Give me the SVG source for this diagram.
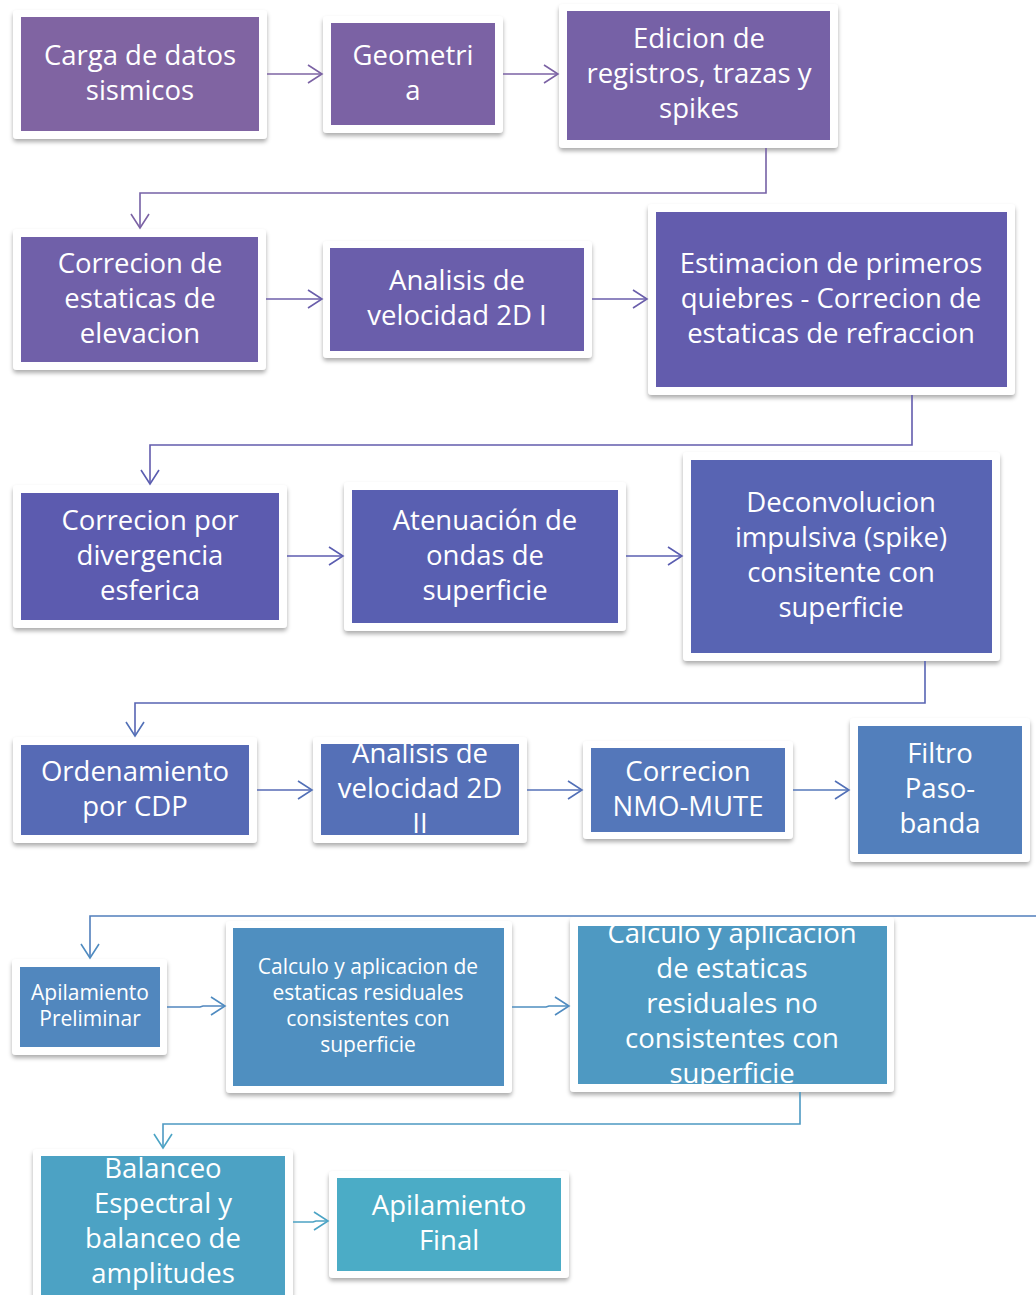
<svg xmlns="http://www.w3.org/2000/svg" width="1036" height="1295" viewBox="0 0 1036 1295">
<style>
.o{fill:#fff;filter:url(#sh)}
.t{font-family:"Open Sans","Noto Sans",sans-serif;font-size:27.5px;fill:#fff;text-anchor:middle}
.s{font-size:21px}
.c{fill:none;stroke-width:1.6}
</style>
<defs>
<filter id="sh" x="-10%" y="-10%" width="120%" height="130%">
<feDropShadow dx="0" dy="3" stdDeviation="2.2" flood-color="#000" flood-opacity="0.32"/>
</filter>
<marker id="a1" markerUnits="userSpaceOnUse" markerWidth="18" markerHeight="22" refX="15" refY="10" orient="auto"><path d="M1,1 L15,10 L1,19" fill="none" stroke="#7B62A4" stroke-width="1.6"/></marker>
<marker id="a2" markerUnits="userSpaceOnUse" markerWidth="18" markerHeight="22" refX="15" refY="10" orient="auto"><path d="M1,1 L15,10 L1,19" fill="none" stroke="#6A5EAB" stroke-width="1.6"/></marker>
<marker id="a3" markerUnits="userSpaceOnUse" markerWidth="18" markerHeight="22" refX="15" refY="10" orient="auto"><path d="M1,1 L15,10 L1,19" fill="none" stroke="#5A5DB0" stroke-width="1.6"/></marker>
<marker id="a4" markerUnits="userSpaceOnUse" markerWidth="18" markerHeight="22" refX="15" refY="10" orient="auto"><path d="M1,1 L15,10 L1,19" fill="none" stroke="#5270B7" stroke-width="1.6"/></marker>
<marker id="a5" markerUnits="userSpaceOnUse" markerWidth="18" markerHeight="22" refX="15" refY="10" orient="auto"><path d="M1,1 L15,10 L1,19" fill="none" stroke="#4F8BC0" stroke-width="1.6"/></marker>
<marker id="a6" markerUnits="userSpaceOnUse" markerWidth="18" markerHeight="22" refX="15" refY="10" orient="auto"><path d="M1,1 L15,10 L1,19" fill="none" stroke="#4CA4C5" stroke-width="1.6"/></marker>
</defs>
<rect width="1036" height="1295" fill="#fff"/>

<g id="n1"><rect class="o" x="13" y="10" width="254" height="129" rx="4"/><rect x="21" y="17" width="238" height="114" fill="#8064A2"/>
<text class="t" x="140" y="65">Carga de datos</text><text class="t" x="140" y="100">sismicos</text></g>
<g id="n2"><rect class="o" x="323" y="16" width="180" height="117" rx="4"/><rect x="331" y="23" width="164" height="102" fill="#7B62A4"/>
<text class="t" x="413" y="65">Geometri</text><text class="t" x="413" y="100">a</text></g>
<g id="n3"><rect class="o" x="559" y="4" width="279" height="144" rx="4"/><rect x="567" y="11" width="263" height="129" fill="#7661A6"/>
<text class="t" x="699" y="48">Edicion de</text><text class="t" x="699" y="83">registros, trazas y</text><text class="t" x="699" y="118">spikes</text></g>

<g id="n4"><rect class="o" x="13" y="229" width="253" height="141" rx="4"/><rect x="21" y="237" width="237" height="125" fill="#7060A9"/>
<text class="t" x="140" y="273">Correcion de</text><text class="t" x="140" y="308">estaticas de</text><text class="t" x="140" y="343">elevacion</text></g>
<g id="n5"><rect class="o" x="323" y="241" width="269" height="117" rx="4"/><rect x="330" y="248" width="254" height="103" fill="#6A5EAB"/>
<text class="t" x="457" y="290">Analisis de</text><text class="t" x="457" y="325">velocidad 2D I</text></g>
<g id="n6"><rect class="o" x="648" y="204" width="367" height="191" rx="4"/><rect x="656" y="212" width="351" height="175" fill="#635CAD"/>
<text class="t" x="831" y="273">Estimacion de primeros</text><text class="t" x="831" y="308">quiebres - Correcion de</text><text class="t" x="831" y="343">estaticas de refraccion</text></g>

<g id="n7"><rect class="o" x="13" y="485" width="274" height="143" rx="4"/><rect x="21" y="493" width="258" height="127" fill="#5C5BAF"/>
<text class="t" x="150" y="530">Correcion por</text><text class="t" x="150" y="565">divergencia</text><text class="t" x="150" y="600">esferica</text></g>
<g id="n8"><rect class="o" x="344" y="482" width="282" height="149" rx="4"/><rect x="352" y="490" width="266" height="133" fill="#595FB1"/>
<text class="t" x="485" y="530">Atenuación de</text><text class="t" x="485" y="565">ondas de</text><text class="t" x="485" y="600">superficie</text></g>
<g id="n9"><rect class="o" x="683" y="452" width="317" height="209" rx="4"/><rect x="691" y="460" width="301" height="193" fill="#5864B3"/>
<text class="t" x="841" y="512">Deconvolucion</text><text class="t" x="841" y="547">impulsiva (spike)</text><text class="t" x="841" y="582">consitente con</text><text class="t" x="841" y="617">superficie</text></g>

<g id="n10"><rect class="o" x="13" y="737" width="244" height="106" rx="4"/><rect x="21" y="745" width="228" height="90" fill="#566AB5"/>
<text class="t" x="135" y="781">Ordenamiento</text><text class="t" x="135" y="816">por CDP</text></g>
<g id="n11"><rect class="o" x="313" y="737" width="214" height="106" rx="4"/><rect x="321" y="744" width="198" height="91" fill="#5570B7"/>
<text class="t" x="420" y="763">Analisis de</text><text class="t" x="420" y="798">velocidad 2D</text><text class="t" x="420" y="833">II</text></g>
<g id="n12"><rect class="o" x="583" y="741" width="210" height="98" rx="4"/><rect x="591" y="748" width="194" height="84" fill="#5477BA"/>
<text class="t" x="688" y="781">Correcion</text><text class="t" x="688" y="816">NMO-MUTE</text></g>
<g id="n13"><rect class="o" x="850" y="718" width="180" height="144" rx="4"/><rect x="858" y="726" width="164" height="128" fill="#527FBC"/>
<text class="t" x="940" y="763">Filtro</text><text class="t" x="940" y="798">Paso-</text><text class="t" x="940" y="833">banda</text></g>

<g id="n14"><rect class="o" x="12" y="959" width="155" height="96" rx="4"/><rect x="20" y="967" width="140" height="80" fill="#5187BE"/>
<text class="t s" x="90" y="1000">Apilamiento</text><text class="t s" x="90" y="1026">Preliminar</text></g>
<g id="n15"><rect class="o" x="226" y="921" width="286" height="172" rx="4"/><rect x="233" y="928" width="271" height="158" fill="#4F8FC0"/>
<text class="t s" x="368" y="974">Calculo y aplicacion de</text><text class="t s" x="368" y="1000">estaticas residuales</text><text class="t s" x="368" y="1026">consistentes con</text><text class="t s" x="368" y="1052">superficie</text></g>
<g id="n16"><rect class="o" x="570" y="917" width="324" height="175" rx="4"/><rect x="578" y="926" width="309" height="158" fill="#4E99C2"/>
<text class="t" x="732" y="943">Calculo y aplicacion</text><text class="t" x="732" y="978">de estaticas</text><text class="t" x="732" y="1013">residuales no</text><text class="t" x="732" y="1048">consistentes con</text><text class="t" x="732" y="1083">superficie</text></g>

<g id="n17"><rect class="o" x="33" y="1149" width="260" height="160" rx="4"/><rect x="41" y="1156" width="244" height="160" fill="#4CA2C4"/>
<text class="t" x="163" y="1178">Balanceo</text><text class="t" x="163" y="1213">Espectral y</text><text class="t" x="163" y="1248">balanceo de</text><text class="t" x="163" y="1283">amplitudes</text></g>
<g id="n18"><rect class="o" x="329" y="1171" width="240" height="107" rx="4"/><rect x="337" y="1178" width="224" height="93" fill="#4BACC6"/>
<text class="t" x="449" y="1215">Apilamiento</text><text class="t" x="449" y="1250">Final</text></g>

<g id="connectors">
<path class="c" stroke="#7E64A3" d="M267,74 H322" marker-end="url(#a1)"/>
<path class="c" stroke="#7B62A4" d="M503,74 H558" marker-end="url(#a1)"/>
<path class="c" stroke="#7661A6" d="M766,148 V193 H140 V228" marker-end="url(#a1)"/>
<path class="c" stroke="#6E5FAA" d="M266,299 H322" marker-end="url(#a2)"/>
<path class="c" stroke="#6A5EAB" d="M592,299 H647" marker-end="url(#a2)"/>
<path class="c" stroke="#635CAD" d="M912,395 V445 H150 V484" marker-end="url(#a3)"/>
<path class="c" stroke="#5C5BAF" d="M287,556 H343" marker-end="url(#a3)"/>
<path class="c" stroke="#5A5FB1" d="M626,556 H682" marker-end="url(#a3)"/>
<path class="c" stroke="#5864B3" d="M925,661 V703 H135 V736" marker-end="url(#a4)"/>
<path class="c" stroke="#566AB5" d="M257,790 H312" marker-end="url(#a4)"/>
<path class="c" stroke="#5570B7" d="M527,790 H582" marker-end="url(#a4)"/>
<path class="c" stroke="#5477BA" d="M793,790 H849" marker-end="url(#a4)"/>
<path class="c" stroke="#527FBC" d="M1036,916 H90 V958" marker-end="url(#a5)"/>
<path class="c" stroke="#5187BE" d="M167,1007 H200 L203,1006 H225" marker-end="url(#a5)"/>
<path class="c" stroke="#4F8FC0" d="M512,1007 H546 L549,1006 H569" marker-end="url(#a5)"/>
<path class="c" stroke="#4E99C2" d="M800,1092 V1124 H163 V1148" marker-end="url(#a6)"/>
<path class="c" stroke="#4CA2C4" d="M293,1222 H313 L316,1221 H328" marker-end="url(#a6)"/>
</g>
</svg>
